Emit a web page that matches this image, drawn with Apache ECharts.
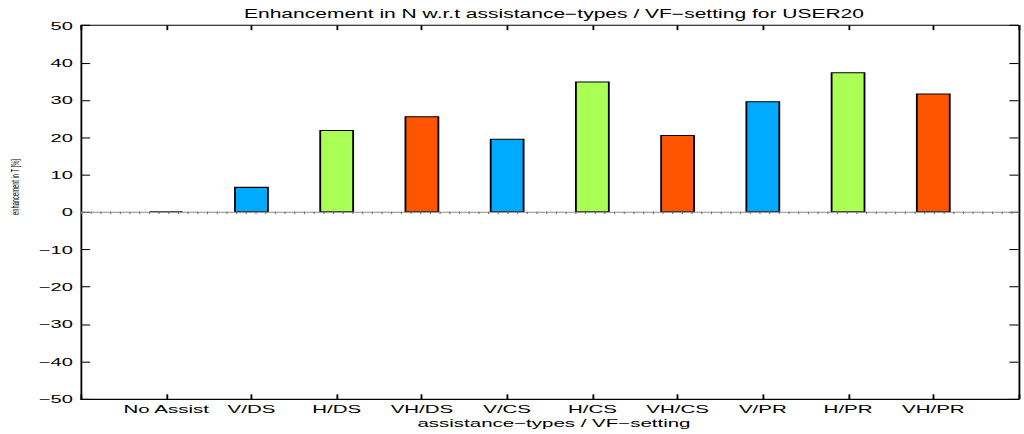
<!DOCTYPE html>
<html>
<head>
<meta charset="utf-8">
<script src="https://cdn.jsdelivr.net/npm/echarts@6/dist/echarts.min.js"></script>
<style>
  html, body { margin: 0; padding: 0; background: #fff; overflow: hidden; }
  #stage { width: 1024px; height: 434px; overflow: hidden; position: relative; }
  /* figure is laid out at 560x420 and stretched to the page like the exported figure */
  #chart { width: 560px; height: 420px; transform-origin: 0 0; transform: scale(1.8285714, 1.0333333); }
</style>
</head>
<body>
<div id="stage"><div id="chart"></div></div>
<script>
// assistance types / VF settings along the x axis
const categories = ['No Assist', 'V/DS', 'H/DS', 'VH/DS', 'V/CS', 'H/CS', 'VH/CS', 'V/PR', 'H/PR', 'VH/PR'];
// enhancement in T [%] for USER20
const enhancement = [0, 6.8, 22.0, 25.7, 19.7, 35.0, 20.7, 29.7, 37.5, 31.8];
// y axis range and step
const yRange = [-50, 50];
const yStep = 10;

const titleText = 'Enhancement in N w.r.t assistance\u2212types / VF\u2212setting for USER20';
const xName = 'assistance\u2212types / VF\u2212setting';
const yName = 'enhancement in T [%]';

const FONT = '"Liberation Sans", Arial, Helvetica, sans-serif';
const palette = { none: '#00007f', V: '#00aaff', H: '#aaff55', VH: '#ff5500' };
function groupOf(cat) {
  if (cat.indexOf('/') < 0) return 'none';
  return cat.split('/')[0];
}

const gridBox = { left: 44.3, top: 24.7, width: 517.3, height: 361.4 };
const axisMid = gridBox.left + gridBox.width / 2;

const chart = echarts.init(document.getElementById('chart'), null, { renderer: 'svg' });

const minus = v => String(v).replace('-', '\u2212');
const axisLineStyle = { color: '#000', width: 1 };

chart.setOption({
  animation: false,
  backgroundColor: '#fff',
  grid: Object.assign({ containLabel: false }, gridBox),
  xAxis: [
    {
      type: 'value', min: 0, max: categories.length + 1, interval: 1, position: 'bottom',
      axisLine: { show: true, onZero: false, lineStyle: axisLineStyle },
      axisTick: { show: true, inside: true, length: 4.5, lineStyle: axisLineStyle },
      axisLabel: {
        show: true, margin: 4, color: '#000', fontSize: 11.2, fontFamily: FONT,
        showMinLabel: true, showMaxLabel: true,
        formatter: v => categories[v - 1] || ''
      },
      splitLine: { show: false }
    },
    {
      type: 'value', min: 0, max: categories.length + 1, interval: 1, position: 'top',
      axisLine: { show: true, onZero: false, lineStyle: axisLineStyle },
      axisTick: { show: true, inside: true, length: 4.5, lineStyle: axisLineStyle },
      axisLabel: { show: false },
      splitLine: { show: false }
    }
  ],
  yAxis: [
    {
      type: 'value', min: yRange[0], max: yRange[1], interval: yStep, position: 'left',
      axisLine: { show: true, onZero: false, lineStyle: axisLineStyle },
      axisTick: { show: true, inside: true, length: 5, lineStyle: axisLineStyle },
      axisLabel: { show: true, margin: 4.4, color: '#000', fontSize: 11, fontFamily: FONT, formatter: minus },
      splitLine: { show: false }
    },
    {
      type: 'value', min: yRange[0], max: yRange[1], interval: yStep, position: 'right',
      axisLine: { show: true, onZero: false, lineStyle: axisLineStyle },
      axisTick: { show: true, inside: true, length: 5, lineStyle: axisLineStyle },
      axisLabel: { show: false },
      splitLine: { show: false }
    }
  ],
  series: [
    {
      type: 'bar',
      xAxisIndex: 0,
      yAxisIndex: 0,
      barWidth: 19,
      barMinHeight: 1,
      data: categories.map((c, i) => ({
        value: [i + 1, enhancement[i]],
        itemStyle: { color: palette[groupOf(c)], borderColor: '#000', borderWidth: 1 }
      })),
      markLine: {
        silent: true,
        symbol: 'none',
        label: { show: false },
        data: [
          { yAxis: 0, lineStyle: { color: '#8c8c8c', width: 1, type: 'solid' } },
          { yAxis: 0, lineStyle: { color: '#6e6e6e', width: 2.4, type: [0.6, 4.7] } }
        ]
      }
    }
  ],
  graphic: [
    {
      type: 'text', x: axisMid, y: 13.4, silent: true,
      style: { text: titleText, fill: '#000', font: '11.5px ' + FONT, textAlign: 'center', textVerticalAlign: 'middle' }
    },
    {
      type: 'text', x: axisMid, y: 409.5, silent: true,
      style: { text: xName, fill: '#000', font: '11.2px ' + FONT, textAlign: 'center', textVerticalAlign: 'middle' }
    },
    {
      type: 'text', x: 8.2, y: 181, rotation: Math.PI / 2, silent: true,
      style: { text: yName, fill: '#000', font: '5.6px ' + FONT, textAlign: 'center', textVerticalAlign: 'middle' }
    }
  ]
});
</script>
</body>
</html>
